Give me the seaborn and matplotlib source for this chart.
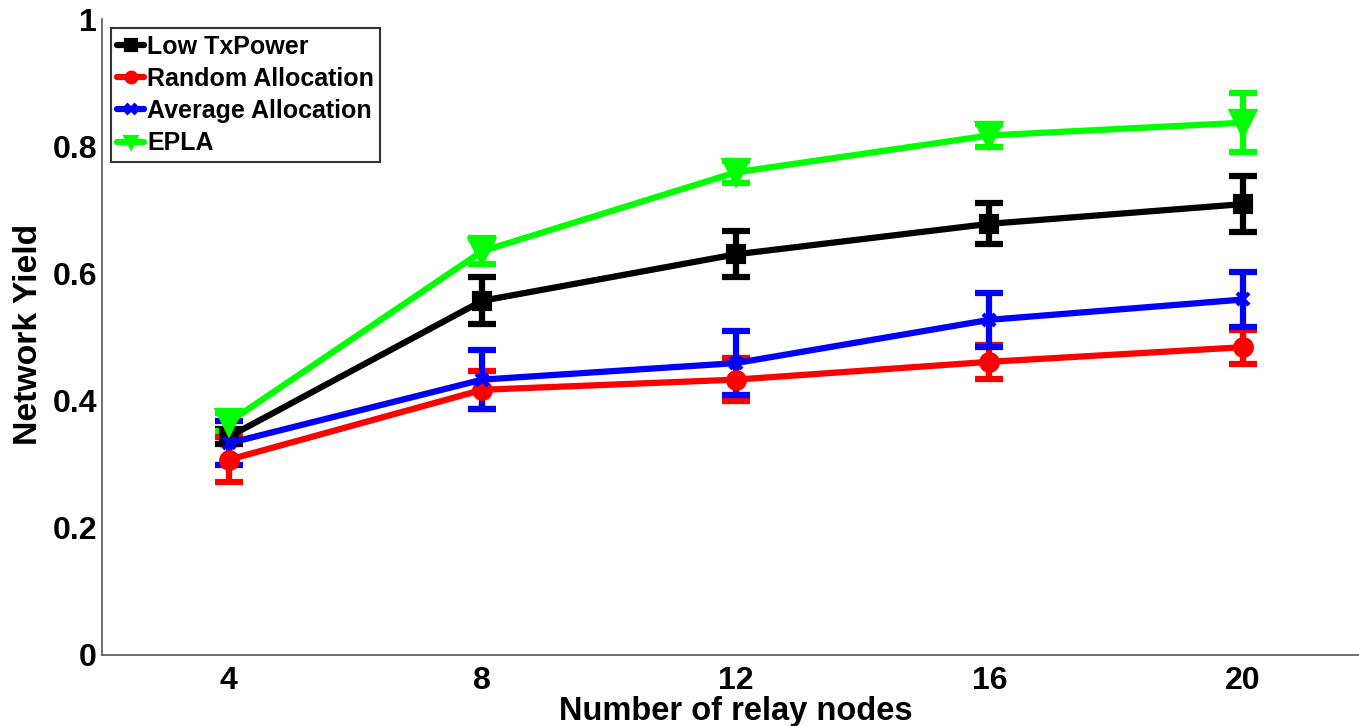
import matplotlib
matplotlib.use("Agg")
import matplotlib.pyplot as plt
import seaborn as sns
import pandas as pd
import numpy as np

relay_nodes = [4, 8, 12, 16, 20]
low_tx = [0.343, 0.557, 0.630, 0.678, 0.709]
low_tx_err = [0.012, 0.037, 0.036, 0.032, 0.044]
random_alloc = [0.307, 0.417, 0.433, 0.461, 0.484]
random_err = [0.035, 0.030, 0.034, 0.027, 0.027]
average_alloc = [0.333, 0.433, 0.459, 0.527, 0.559]
average_err = [0.035, 0.046, 0.050, 0.042, 0.043]
epla = [0.366, 0.635, 0.759, 0.817, 0.837]
epla_err = [0.014, 0.020, 0.017, 0.018, 0.046]

series_names = ["Low TxPower", "Random Allocation", "Average Allocation", "EPLA"]
series_vals = [low_tx, random_alloc, average_alloc, epla]
series_errs = [low_tx_err, random_err, average_err, epla_err]
colors = ["#000000", "#ff0000", "#0000ff", "#00ff00"]
markers = ["s", "o", "x", "v"]
msizes = [12, 12, 9, 17]

sns.set_style("white")
plt.rcParams['font.family'] = ['Liberation Sans', 'DejaVu Sans']
plt.rcParams['font.weight'] = 'bold'
plt.rcParams['text.color'] = 'black'
plt.rcParams['axes.labelcolor'] = 'black'
plt.rcParams['xtick.color'] = '#555555'
plt.rcParams['ytick.color'] = '#555555'
plt.rcParams['xtick.labelcolor'] = 'black'
plt.rcParams['ytick.labelcolor'] = 'black'

W, H = 1359, 726
fig = plt.figure(figsize=(W / 100, H / 100), dpi=100)
ax_l, ax_b, ax_w, ax_h = 0.075, 0.0978, 0.933, 0.876
ax = fig.add_axes([ax_l, ax_b, ax_w, ax_h])

rows = []
for name, vals in zip(series_names, series_vals):
    for x, v in zip(relay_nodes, vals):
        rows.append({"nodes": x, "yield": v, "series": name})
df = pd.DataFrame(rows)

for name, vals, errs, c, m, ms in zip(series_names, series_vals, series_errs, colors, markers, msizes):
    ax.errorbar(relay_nodes, vals, yerr=errs, fmt='none', ecolor=c, elinewidth=4.5,
                capsize=10, capthick=4.5, zorder=2)
    sub = df[df["series"] == name]
    sns.lineplot(data=sub, x="nodes", y="yield", color=c, marker=m, markersize=ms,
                 markeredgecolor=c, markeredgewidth=3, linewidth=4.5, ax=ax,
                 label=name, zorder=3)

ax.set_xlabel("")
ax.set_ylabel("")
ax.set_xlim(2, 22)
ax.set_ylim(0, 1)
ax.set_xticks(relay_nodes)
ax.set_yticks([0, 0.2, 0.4, 0.6, 0.8, 1])
ax.set_yticklabels(["0", "0.2", "0.4", "0.6", "0.8", "1"])
ax.tick_params(axis='both', direction='in', length=8, width=1, color='#555555',
               labelsize=23, labelcolor='black')
ax.tick_params(axis='y', pad=3.5)
ax.tick_params(axis='x', pad=8)
for lab in ax.get_xticklabels() + ax.get_yticklabels():
    lab.set_fontweight('bold')
for s in ["top", "right"]:
    ax.spines[s].set_visible(False)
for s in ["left", "bottom"]:
    ax.spines[s].set_color('#555555')
    ax.spines[s].set_linewidth(1.2)

# axis labels placed in figure pixel coordinates
fig.text(735.5 / W, 1 - 720 / H, "Number of relay nodes", fontsize=23.5,
         fontweight='bold', color='black', ha='center', va='baseline')
fig.text(28.5 / W, 1 - 334 / H, "Network Yield", fontsize=24.3, rotation=90,
         fontweight='bold', color='black', ha='center', va='center')

leg = ax.legend(loc='upper left', bbox_to_anchor=(0.003, 0.993), fontsize=18,
                frameon=True, fancybox=False, edgecolor='black', handlelength=1.1,
                handletextpad=0.1, borderpad=0.25, labelspacing=0.33, borderaxespad=0.2)
leg.get_frame().set_linewidth(1.5)
for t in leg.get_texts():
    t.set_fontweight('bold')
    t.set_color('black')
for h in leg.legend_handles:
    h.set_markersize(7)
    h.set_linewidth(4.5)

fig.savefig("out.png", dpi=100)
